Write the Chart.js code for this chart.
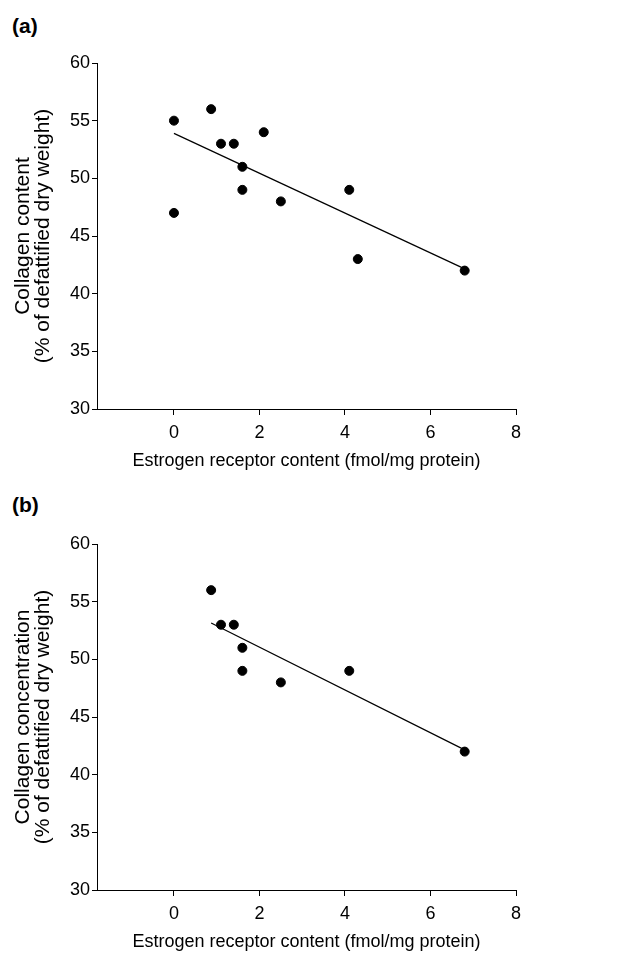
<!DOCTYPE html>
<html>
<head>
<meta charset="utf-8">
<script src="https://cdn.jsdelivr.net/npm/chart.js@4/dist/chart.umd.min.js"></script>
<style>
  body { margin: 0; background: #fff; }
  #wrap { position: relative; width: 618px; height: 954px; overflow: hidden; }
  canvas { position: absolute; left: 0; }
  .panel { position: absolute; left: 12px; font: bold 21px "Liberation Sans", Arial, sans-serif; line-height: 1; color: #000; }
</style>
</head>
<body>
<div id="wrap">
  <div class="panel" style="top:15px">(a)</div>
  <canvas id="chartA" width="618" height="473" style="top:0"></canvas>
  <div class="panel" style="top:494px">(b)</div>
  <canvas id="chartB" width="618" height="473" style="top:481px"></canvas>
</div>
<script>
// panel (a): all samples
var erA = [0, 0, 0.87, 1.1, 1.4, 1.6, 1.6, 2.1, 2.5, 4.1, 4.3, 6.8];
var collA = [55, 47, 56, 53, 53, 51, 49, 54, 48, 49, 43, 42];
var fitAx = [0, 6.8];
var fitAy = [53.9, 42.15];

// panel (b): samples with receptor content > 0
var erB = [0.87, 1.1, 1.4, 1.6, 1.6, 2.5, 4.1, 6.8];
var collB = [56, 53, 53, 51, 49, 48, 49, 42];
var fitBx = [0.87, 6.8];
var fitBy = [53.15, 42.15];

var xTicks = [0, 2, 4, 6, 8];
var yTicks = [30, 35, 40, 45, 50, 55, 60];
var xTitle = 'Estrogen receptor content (fmol/mg protein)';

var FONT = '"Liberation Sans", Arial, sans-serif';

function pairs(xs, ys) {
    return xs.map(function (x, i) { return {x: x, y: ys[i]}; });
}

function makeChart(id, xs, ys, fx, fy, yTitle) {
    var ctx = document.getElementById(id);
    return new Chart(ctx, {
        type: 'scatter',
        data: {
            datasets: [{
                data: pairs(xs, ys),
                backgroundColor: '#000',
                borderColor: '#000',
                pointRadius: 4.5,
                pointHoverRadius: 4.5,
                showLine: false
            }, {
                data: pairs(fx, fy),
                borderColor: '#000',
                borderWidth: 1.2,
                pointRadius: 0,
                showLine: true,
                fill: false
            }]
        },
        options: {
            responsive: false,
            animation: false,
            devicePixelRatio: 1,
            layout: { padding: { top: 63, left: 8, right: 102, bottom: 0 } },
            plugins: { legend: { display: false }, tooltip: { enabled: false } },
            scales: {
                x: {
                    type: 'linear',
                    min: -1.8,
                    max: 8,
                    afterBuildTicks: function (scale) {
                        scale.ticks = xTicks.map(function (v) { return {value: v}; });
                    },
                    afterFit: function (scale) { scale.height = 64; },
                    grid: { drawOnChartArea: false, drawTicks: true, tickLength: 6, color: '#000' },
                    border: { display: true, color: '#000', width: 1 },
                    ticks: { color: '#000', font: { family: FONT, size: 18 }, padding: 7, maxRotation: 0 },
                    title: { display: true, text: xTitle, color: '#000', font: { family: FONT, size: 18 }, padding: { top: 0, bottom: 1 } }
                },
                y: {
                    type: 'linear',
                    min: 30,
                    max: 60,
                    afterBuildTicks: function (scale) {
                        scale.ticks = yTicks.map(function (v) { return {value: v}; });
                    },
                    afterFit: function (scale) { scale.width = 89; },
                    grid: { drawOnChartArea: false, drawTicks: true, tickLength: 5, color: '#000' },
                    border: { display: true, color: '#000', width: 1 },
                    ticks: { color: '#000', font: { family: FONT, size: 18 }, padding: 2 },
                    title: { display: true, text: yTitle, color: '#000', font: { family: FONT, size: 21, lineHeight: 0.95 }, padding: { top: 5, bottom: 0 } }
                }
            }
        }
    });
}

makeChart('chartA', erA, collA, fitAx, fitAy, ['Collagen content', '(% of defattified dry weight)']);
makeChart('chartB', erB, collB, fitBx, fitBy, ['Collagen concentration', '(% of defattified dry weight)']);
</script>
</body>
</html>
